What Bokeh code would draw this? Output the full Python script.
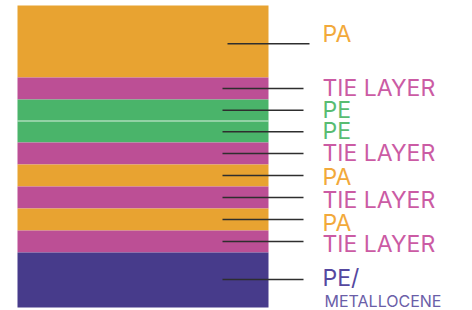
from bokeh.plotting import figure
from bokeh.models import ColumnDataSource, Range1d
from bokeh.core.properties import value
from bokeh.embed import file_html
from bokeh.resources import INLINE

# ---- data (top layer first) ----
layers = ["PA", "TIE LAYER", "PE", "PE", "TIE LAYER", "PA", "TIE LAYER", "PA", "TIE LAYER", "PE/"]
sublabels = ["", "", "", "", "", "", "", "", "", "METALLOCENE"]
thickness = [72, 22, 21.5, 21.5, 22, 22, 22, 22, 22, 55]
kinds = ["PA", "TIE", "PE", "PE", "TIE", "PA", "TIE", "PA", "TIE", "MET"]

fill_colors = {"PA": "#E8A331", "TIE": "#BC4F95", "PE": "#4AB46A", "MET": "#473B8B"}
text_colors = {"PA": "#F2A93B", "TIE": "#CB5BA4", "PE": "#58BC72", "MET": "#5548A0"}
sub_color = "#6A5EA8"

# ---- layout ----
W, H = 472, 310
stack_bottom = 3
total = sum(thickness)
tops, bottoms = [], []
y = stack_bottom + total
for t in thickness:
    tops.append(y)
    bottoms.append(y - t)
    y -= t
centers = [(a + b) / 2 for a, b in zip(tops, bottoms)]

FONT = "Inter"
main_size = 23
sub_size = 16

# label vertical offsets (pixels, + = down) relative to layer centres
label_dy = [-7.5, -0.5, 0, -0.5, -1, 1, 2.5, 3.5, 2.5, -2.5]
line_dy = [2.3, 0, 0, 0, 0, 0, 0, 0, 0, -0.5]

src = ColumnDataSource(dict(
    top=tops, bottom=bottoms,
    color=[fill_colors[k] for k in kinds],
))

lab_y = [c - dy for c, dy in zip(centers, label_dy)]
lab_src = ColumnDataSource(dict(
    x=[322] * len(layers), y=lab_y, text=layers,
    color=[text_colors[k] for k in kinds],
))

ln_y = [c - dy for c, dy in zip(centers, line_dy)]
ln_x0 = [227 if i == 0 else 222 for i in range(len(layers))]
ln_x1 = [309 if i == 0 else 303 for i in range(len(layers))]
ln_src = ColumnDataSource(dict(x0=ln_x0, x1=ln_x1, y=ln_y))

p = figure(width=W, height=H, x_range=Range1d(0, W), y_range=Range1d(0, H),
           output_backend="svg", toolbar_location=None, min_border=0,
           outline_line_color=None, background_fill_color="white",
           border_fill_color="white")
p.axis.visible = False
p.grid.visible = False

p.quad(left=17, right=268, top="top", bottom="bottom", fill_color="color",
       line_color=None, source=src)

# thin white separation between the two PE layers
pe_idx = [i for i, k in enumerate(kinds) if k == "PE"]
sep_y = bottoms[pe_idx[0]]
p.segment(x0=[17], x1=[268], y0=[sep_y], y1=[sep_y], line_color="white",
          line_width=1.2, line_alpha=0.8)

p.segment(x0="x0", x1="x1", y0="y", y1="y", line_color="#2e2e2e", line_width=1.4,
          source=ln_src)

p.text(x="x", y="y", text="text", text_color="color", text_font=value(FONT),
       text_font_size=f"{main_size}px", text_baseline="middle", text_align="left",
       source=lab_src)

# sub label under PE/
mi = len(layers) - 1
sub_center = centers[mi] - 21
p.text(x=[324], y=[sub_center], text=[sublabels[mi]],
       text_color=sub_color, text_font=value(FONT), text_font_size=f"{sub_size}px",
       text_baseline="middle", text_align="left")

open("out.html", "w").write(file_html(p, INLINE))
